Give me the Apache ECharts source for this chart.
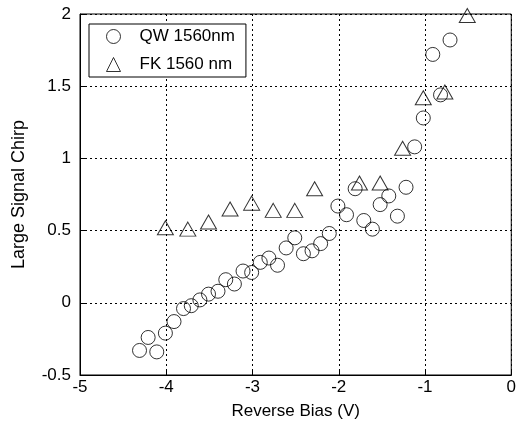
<!DOCTYPE html>
<html><head><meta charset="utf-8">
<script src="https://cdn.jsdelivr.net/npm/echarts@6/dist/echarts.min.js"></script>
<style>html,body{margin:0;padding:0;background:#fff}#c{width:519px;height:432px}</style>
</head><body><div id="c"></div>
<script>
const qwName = 'QW 1560nm';
const fkName = 'FK 1560 nm';
const qwX = [-4.31,-4.21,-4.11,-4.01,-3.91,-3.80,-3.71,-3.61,-3.51,-3.40,-3.31,-3.21,-3.11,-3.01,-2.91,-2.81,-2.71,-2.61,-2.51,-2.41,-2.31,-2.21,-2.11,-2.01,-1.91,-1.81,-1.71,-1.61,-1.52,-1.42,-1.32,-1.22,-1.12,-1.02,-0.91,-0.82,-0.71];
const qwY = [-0.33,-0.24,-0.34,-0.21,-0.13,-0.04,-0.02,0.02,0.06,0.08,0.16,0.13,0.22,0.21,0.28,0.31,0.26,0.38,0.45,0.34,0.36,0.41,0.48,0.67,0.61,0.79,0.57,0.51,0.68,0.74,0.60,0.80,1.08,1.28,1.72,1.44,1.82];
const fkX = [-4.01,-3.75,-3.51,-3.26,-3.01,-2.76,-2.51,-2.28,-1.76,-1.52,-1.26,-1.02,-0.77,-0.51];
const fkY = [0.52,0.51,0.56,0.65,0.69,0.64,0.64,0.79,0.83,0.83,1.07,1.42,1.46,1.99];
const xTicks = [-5,-4,-3,-2,-1,0];
const yTicks = [-0.5,0,0.5,1,1.5,2];

const FONT = 'Liberation Sans, Arial, sans-serif';
const chart = echarts.init(document.getElementById('c'), null, {renderer:'canvas'});
const sym = {color:'transparent', borderColor:'#000', borderWidth:1};
chart.setOption({
  animation:false,
  backgroundColor:'#fff',
  grid:{left:80, right:7, top:14, bottom:57, show:true, borderColor:'#000', borderWidth:1, backgroundColor:'transparent'},
  legend:{
    left:89, top:24, orient:'vertical', backgroundColor:'#fff', borderColor:'#000', borderWidth:1,
    padding:[4,11,4,17], itemGap:11, itemWidth:14, itemHeight:14,
    itemStyle:{color:'transparent', borderColor:'#000', borderWidth:1},
    textStyle:{fontFamily:FONT, fontSize:17, color:'#000', padding:[0,0,0,14]},
    data:[{name:qwName, icon:'circle'},{name:fkName, icon:'triangle'}]
  },
  xAxis:{
    type:'value', min:xTicks[0], max:xTicks[xTicks.length-1], interval:1,
    name:'Reverse Bias (V)', nameLocation:'middle', nameGap:28,
    nameTextStyle:{fontFamily:FONT, fontSize:17, color:'#000'},
    axisLine:{onZero:false, lineStyle:{color:'#000', width:1}},
    axisTick:{inside:true, length:5, lineStyle:{color:'#000'}},
    axisLabel:{margin:4, fontFamily:FONT, fontSize:17, color:'#000'},
    splitLine:{show:true, lineStyle:{color:'#000', type:[2,3], width:1}}
  },
  yAxis:{
    type:'value', min:yTicks[0], max:yTicks[yTicks.length-1], interval:0.5,
    name:'Large Signal Chirp', nameLocation:'middle', nameGap:52,
    nameTextStyle:{fontFamily:FONT, fontSize:18, color:'#000'},
    axisLine:{onZero:false, lineStyle:{color:'#000', width:1}},
    axisTick:{inside:true, length:5, lineStyle:{color:'#000'}},
    axisLabel:{margin:9, fontFamily:FONT, fontSize:17, color:'#000'},
    splitLine:{show:true, lineStyle:{color:'#000', type:[2,3], width:1}}
  },
  series:[
    {name:qwName, type:'scatter', symbol:'circle', symbolSize:14,
     itemStyle:sym, data:qwX.map((x,i)=>[x,qwY[i]])},
    {name:fkName, type:'scatter', symbol:'triangle', symbolSize:[16,14],
     itemStyle:sym, data:fkX.map((x,i)=>[x,fkY[i]])}
  ]
});
</script></body></html>
